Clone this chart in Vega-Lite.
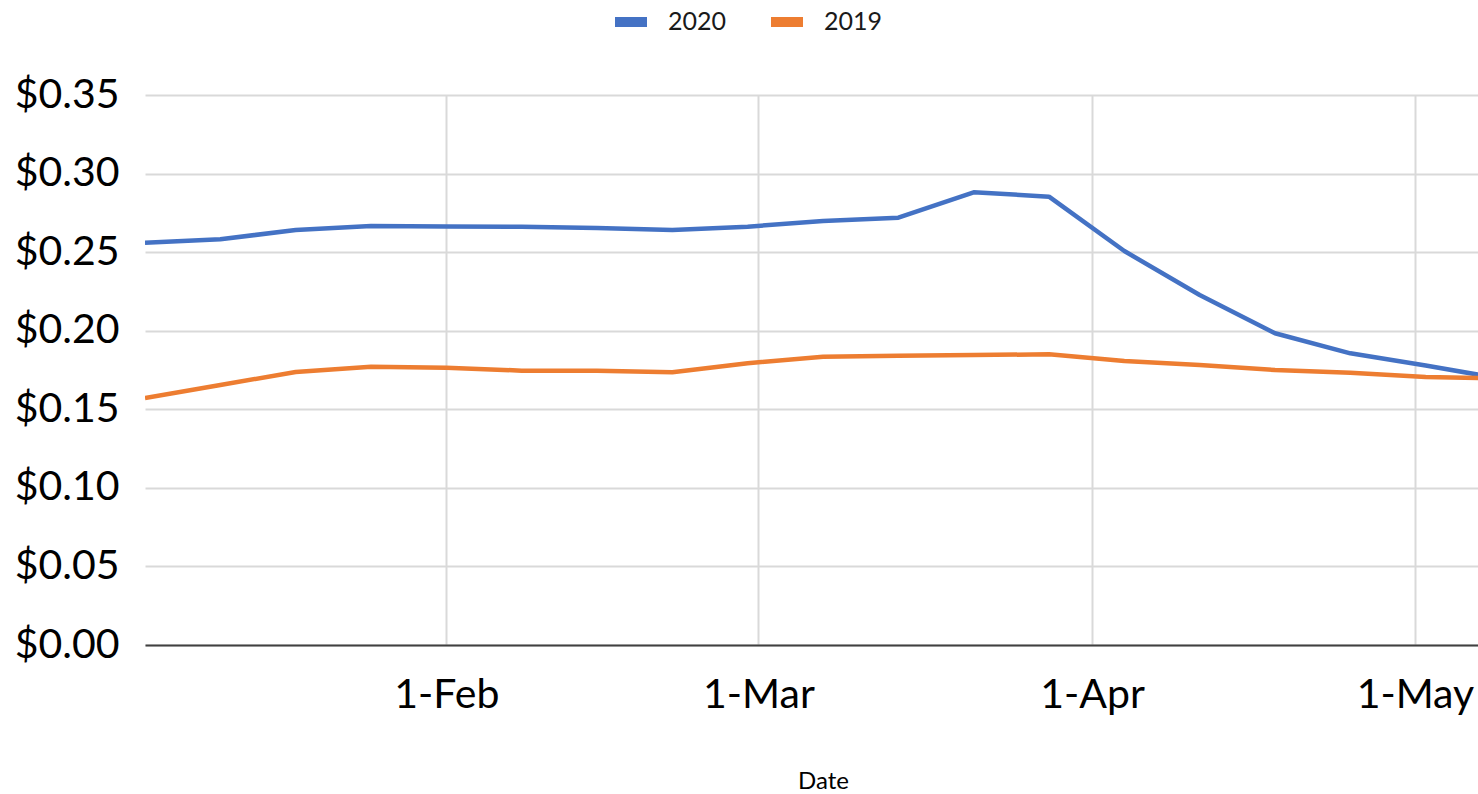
{
  "$schema": "https://vega.github.io/schema/vega-lite/v6.json",
  "autosize": "none",
  "width": 1356,
  "height": 550,
  "padding": {"left": 145, "top": 95, "right": 0, "bottom": 149},
  "background": "white",
  "config": {
    "font": "Lato",
    "view": {"stroke": null}
  },
  "data": {
    "values": [
      {"date": "2020-01-04", "year": "2020", "price": 0.2560},
      {"date": "2020-01-11", "year": "2020", "price": 0.2582},
      {"date": "2020-01-18", "year": "2020", "price": 0.2641},
      {"date": "2020-01-25", "year": "2020", "price": 0.2666},
      {"date": "2020-02-01", "year": "2020", "price": 0.2663},
      {"date": "2020-02-08", "year": "2020", "price": 0.2662},
      {"date": "2020-02-15", "year": "2020", "price": 0.2654},
      {"date": "2020-02-22", "year": "2020", "price": 0.2641},
      {"date": "2020-02-29", "year": "2020", "price": 0.2662},
      {"date": "2020-03-07", "year": "2020", "price": 0.2698},
      {"date": "2020-03-14", "year": "2020", "price": 0.2719},
      {"date": "2020-03-21", "year": "2020", "price": 0.2881},
      {"date": "2020-03-28", "year": "2020", "price": 0.2853},
      {"date": "2020-04-04", "year": "2020", "price": 0.2507},
      {"date": "2020-04-11", "year": "2020", "price": 0.2227},
      {"date": "2020-04-18", "year": "2020", "price": 0.1984},
      {"date": "2020-04-25", "year": "2020", "price": 0.1856},
      {"date": "2020-05-02", "year": "2020", "price": 0.1779},
      {"date": "2020-05-09", "year": "2020", "price": 0.1695},
      {"date": "2020-01-04", "year": "2019", "price": 0.1572},
      {"date": "2020-01-11", "year": "2019", "price": 0.1655},
      {"date": "2020-01-18", "year": "2019", "price": 0.1737},
      {"date": "2020-01-25", "year": "2019", "price": 0.1771},
      {"date": "2020-02-01", "year": "2019", "price": 0.1765},
      {"date": "2020-02-08", "year": "2019", "price": 0.1746},
      {"date": "2020-02-15", "year": "2019", "price": 0.1746},
      {"date": "2020-02-22", "year": "2019", "price": 0.1735},
      {"date": "2020-02-29", "year": "2019", "price": 0.1793},
      {"date": "2020-03-07", "year": "2019", "price": 0.1835},
      {"date": "2020-03-14", "year": "2019", "price": 0.1841},
      {"date": "2020-03-21", "year": "2019", "price": 0.1845},
      {"date": "2020-03-28", "year": "2019", "price": 0.1850},
      {"date": "2020-04-04", "year": "2019", "price": 0.1807},
      {"date": "2020-04-11", "year": "2019", "price": 0.1782},
      {"date": "2020-04-18", "year": "2019", "price": 0.1750},
      {"date": "2020-04-25", "year": "2019", "price": 0.1733},
      {"date": "2020-05-02", "year": "2019", "price": 0.1705},
      {"date": "2020-05-09", "year": "2019", "price": 0.1696}
    ]
  },
  "mark": {"type": "line", "strokeWidth": 4.5, "strokeJoin": "round", "clip": true},
  "encoding": {
    "x": {
      "field": "date",
      "type": "temporal",
      "title": "Date",
      "scale": {
        "type": "utc",
        "domain": [
          {"year": 2020, "month": 1, "date": 4, "utc": true},
          {"year": 2020, "month": 5, "date": 9, "utc": true}
        ]
      },
      "axis": {
        "values": [
          {"year": 2020, "month": 2, "date": 1, "utc": true},
          {"year": 2020, "month": 3, "date": 1, "utc": true},
          {"year": 2020, "month": 4, "date": 1, "utc": true},
          {"year": 2020, "month": 5, "date": 1, "utc": true}
        ],
        "labelExpr": "utcFormat(datum.value, '%-d-%b')",
        "labelFontSize": 41,
        "labelColor": "#000000",
        "labelPadding": 30,
        "labelFlush": false,
        "labelOverlap": false,
        "ticks": false,
        "grid": true,
        "gridColor": "#d9d9d9",
        "gridWidth": 2,
        "domainColor": "#404040",
        "domainWidth": 2,
        "titleFontSize": 24,
        "titleFontWeight": "normal",
        "titleColor": "#000000",
        "titlePadding": 54
      }
    },
    "y": {
      "field": "price",
      "type": "quantitative",
      "title": null,
      "scale": {"domain": [0, 0.35], "nice": false},
      "axis": {
        "values": [0, 0.05, 0.1, 0.15, 0.2, 0.25, 0.3, 0.35],
        "format": "$.2f",
        "labelFontSize": 41,
        "labelColor": "#000000",
        "labelPadding": 26,
        "ticks": false,
        "domain": false,
        "grid": true,
        "gridColor": "#d9d9d9",
        "gridWidth": 2
      }
    },
    "color": {
      "field": "year",
      "type": "nominal",
      "scale": {"domain": ["2020", "2019"], "range": ["#4472C4", "#ED7D31"]},
      "legend": {
        "title": null,
        "orient": "none",
        "direction": "horizontal",
        "legendX": 465,
        "legendY": -94,
        "symbolType": "stroke",
        "symbolSize": 1024,
        "symbolStrokeWidth": 10,
        "labelFontSize": 25,
        "labelColor": "#1a1a1a",
        "labelOffset": 16,
        "columnPadding": 24
      }
    }
  }
}
